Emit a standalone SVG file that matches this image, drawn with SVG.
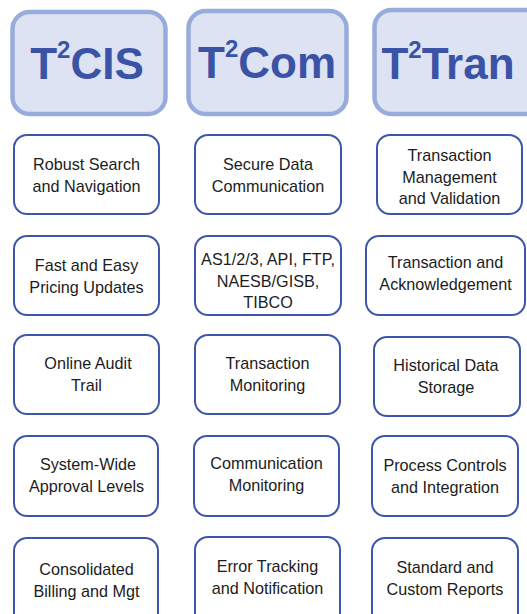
<svg xmlns="http://www.w3.org/2000/svg" width="527" height="614" viewBox="0 0 527 614">
<style>
.hdr{fill:#dee3f3;stroke:#97acda;stroke-width:4.5}
.ht{font-family:"Liberation Sans",Arial,sans-serif;font-weight:bold;font-size:44px;fill:#3b53a6;text-anchor:middle}
.box{fill:#ffffff;stroke:#3e56a7;stroke-width:2}
.t{font-family:"Liberation Sans",Arial,sans-serif;font-size:16.2px;fill:#1c1c1c;text-anchor:middle}
</style>
<rect width="527" height="614" fill="#ffffff"/>
<g id="h-cis"><rect class="hdr" x="12.5" y="12" width="153" height="102" rx="17"/><text class="ht" x="87" y="79">T<tspan dy="-21" font-size="24">2</tspan><tspan dy="21">CIS</tspan></text></g>
<g id="h-com"><rect class="hdr" x="188.5" y="11" width="158" height="103" rx="17"/><text class="ht" x="267" y="78">T<tspan dy="-21" font-size="24">2</tspan><tspan dy="21">Com</tspan></text></g>
<g id="h-tran"><rect class="hdr" x="374.5" y="10" width="170" height="104" rx="17"/><text class="ht" x="448" y="79">T<tspan dy="-21" font-size="24">2</tspan><tspan dy="21">Tran</tspan></text></g>

<g id="n1"><rect class="box" x="14" y="135" width="145" height="79" rx="13"/><text class="t" x="86.5" y="170">Robust Search</text><text class="t" x="86.5" y="192">and Navigation</text></g>
<g id="n2"><rect class="box" x="14" y="236" width="145" height="79" rx="13"/><text class="t" x="86.5" y="271">Fast and Easy</text><text class="t" x="86.5" y="293">Pricing Updates</text></g>
<g id="n3"><rect class="box" x="14" y="335" width="145" height="79" rx="13"/><text class="t" x="88" y="369">Online Audit</text><text class="t" x="86.5" y="391">Trail</text></g>
<g id="n4"><rect class="box" x="14" y="436" width="144" height="80" rx="13"/><text class="t" x="88" y="470">System-Wide</text><text class="t" x="86.5" y="492">Approval Levels</text></g>
<g id="n5"><rect class="box" x="14" y="538" width="144" height="90" rx="13"/><text class="t" x="86.5" y="575">Consolidated</text><text class="t" x="86.5" y="597">Billing and Mgt</text></g>

<g id="n6"><rect class="box" x="195" y="135" width="146" height="79" rx="13"/><text class="t" x="268" y="170">Secure Data</text><text class="t" x="268" y="192">Communication</text></g>
<g id="n7"><rect class="box" x="195" y="236" width="146" height="79" rx="13"/><text class="t" x="268" y="265">AS1/2/3, API, FTP,</text><text class="t" x="268" y="287">NAESB/GISB,</text><text class="t" x="268" y="308">TIBCO</text></g>
<g id="n8"><rect class="box" x="195" y="335" width="145" height="79" rx="13"/><text class="t" x="267.5" y="369">Transaction</text><text class="t" x="267.5" y="391">Monitoring</text></g>
<g id="n9"><rect class="box" x="194" y="436" width="145" height="80" rx="13"/><text class="t" x="266.5" y="469">Communication</text><text class="t" x="266.5" y="491">Monitoring</text></g>
<g id="n10"><rect class="box" x="195" y="537" width="145" height="90" rx="13"/><text class="t" x="267.5" y="572">Error Tracking</text><text class="t" x="267.5" y="594">and Notification</text></g>

<g id="n11"><rect class="box" x="377" y="135" width="145" height="79" rx="13"/><text class="t" x="449.5" y="161">Transaction</text><text class="t" x="449.5" y="183">Management</text><text class="t" x="449.5" y="204">and Validation</text></g>
<g id="n12"><rect class="box" x="366" y="236" width="159" height="79" rx="13"/><text class="t" x="445.5" y="268">Transaction and</text><text class="t" x="445.5" y="290">Acknowledgement</text></g>
<g id="n13"><rect class="box" x="374" y="337" width="146" height="79" rx="13"/><text class="t" x="446" y="371">Historical Data</text><text class="t" x="446" y="393">Storage</text></g>
<g id="n14"><rect class="box" x="372" y="436" width="146" height="80" rx="13"/><text class="t" x="445" y="471">Process Controls</text><text class="t" x="445" y="493">and Integration</text></g>
<g id="n15"><rect class="box" x="372" y="538" width="146" height="90" rx="13"/><text class="t" x="445" y="573">Standard and</text><text class="t" x="445" y="595">Custom Reports</text></g>
<g id="connectors"></g>
</svg>
